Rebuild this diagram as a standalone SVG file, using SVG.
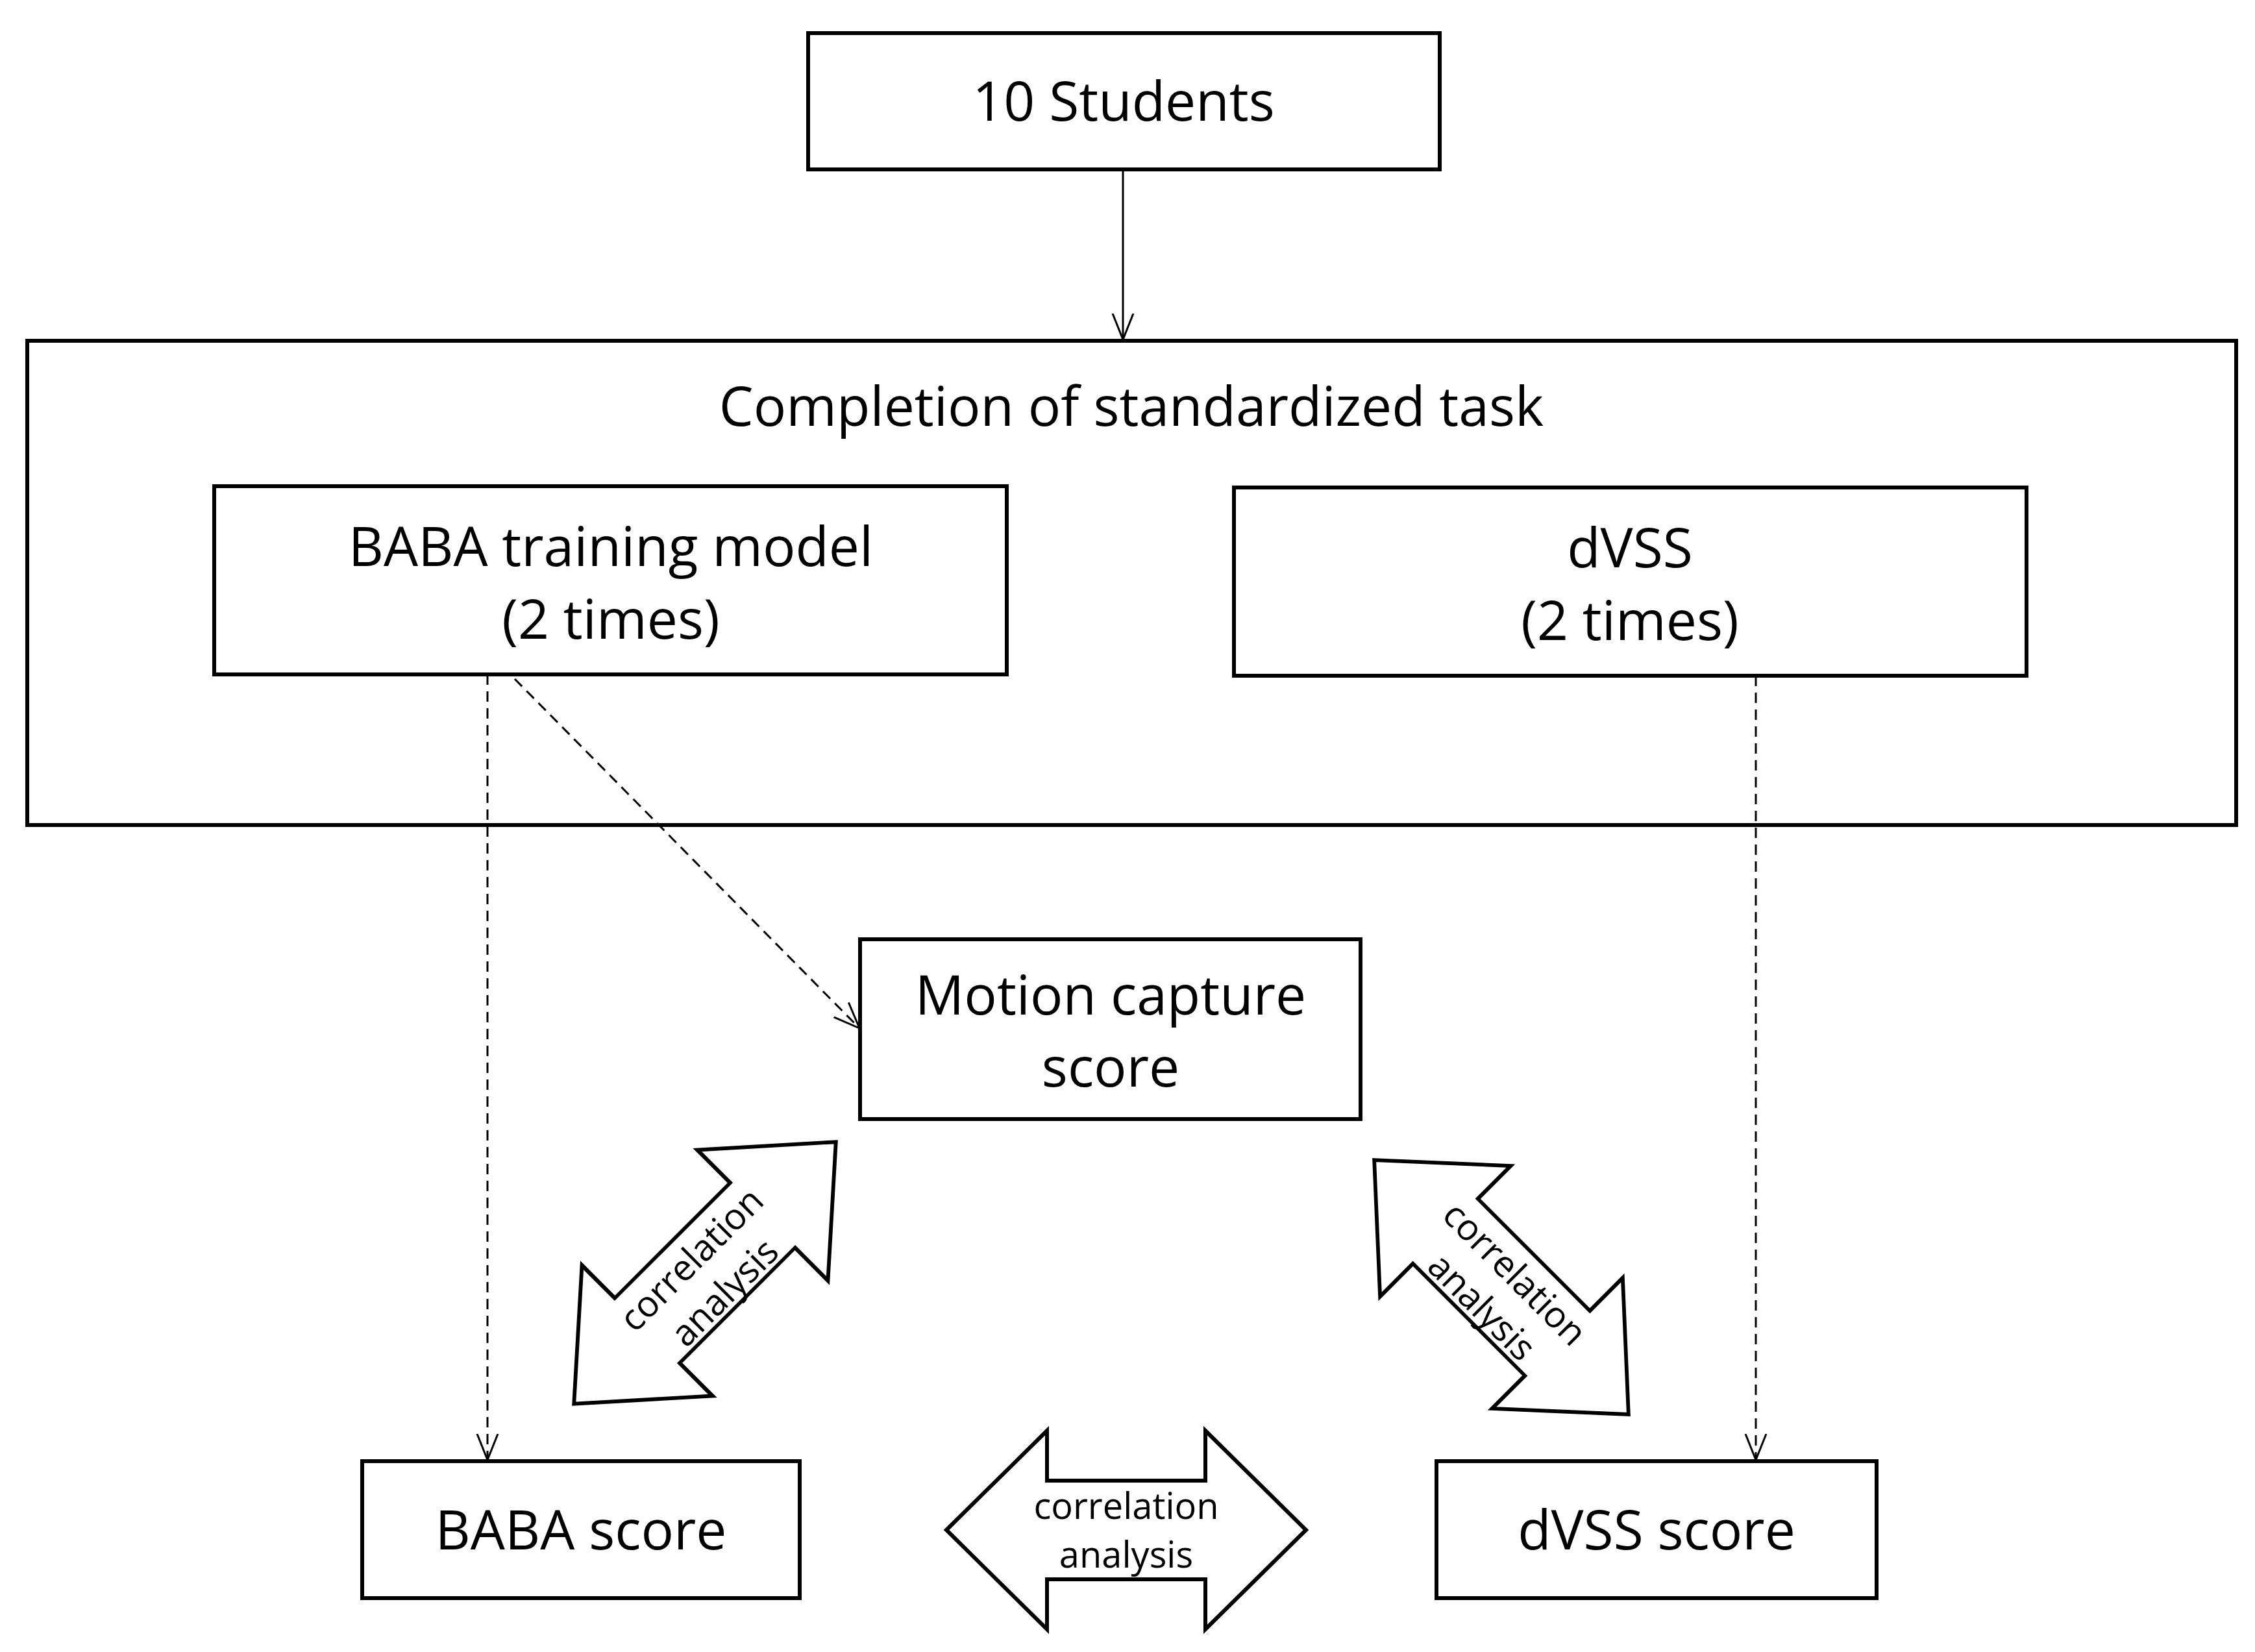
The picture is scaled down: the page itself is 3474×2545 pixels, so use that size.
<svg xmlns="http://www.w3.org/2000/svg" width="3474" height="2545" viewBox="0 0 3474 2545">
<style>
.b{fill:#fff;stroke:#000;stroke-width:6}
.t{font-family:"Open Sans","Noto Sans",sans-serif;font-size:84px;fill:#000;text-anchor:middle}
.s{font-family:"Open Sans","Noto Sans",sans-serif;font-size:56px;fill:#000;text-anchor:middle}
.c{fill:none;stroke:#000;stroke-width:3}
.d{stroke-dasharray:16 10}
</style>
<defs>
<marker id="a" viewBox="0 0 20 20" refX="20" refY="10" markerWidth="14" markerHeight="14" markerUnits="userSpaceOnUse" orient="auto"><path d="M0,0 L20,10 L0,20" fill="none" stroke="#000" stroke-width="2"/></marker>
<marker id="a2" viewBox="0 0 20 20" refX="20" refY="10" markerWidth="40" markerHeight="40" markerUnits="userSpaceOnUse" orient="auto"><path d="M0,2 L20,10 L0,18" fill="none" stroke="#000" stroke-width="1.5"/></marker>
<path id="dbl" d="M-277,0 L-122,-153 L-122,-76 L122,-76 L122,-153 L277,0 L122,153 L122,76 L-122,76 L-122,153 Z" class="b"/>
</defs>
<g id="n1"><rect class="b" x="1245" y="51" width="973" height="210"/><text class="t" x="1731" y="186">10 Students</text></g>
<g id="n2"><rect class="b" x="42" y="525" width="3403" height="746"/><text class="t" x="1743" y="656">Completion of standardized task</text></g>
<g id="n3"><rect class="b" x="330" y="749" width="1221" height="290"/><text class="t" x="941" y="872">BABA training model</text><text class="t" x="941" y="984">(2 times)</text></g>
<g id="n4"><rect class="b" x="1901" y="751" width="1221" height="290"/><text class="t" x="2511" y="874">dVSS</text><text class="t" x="2511" y="986">(2 times)</text></g>
<g id="n5"><rect class="b" x="1325" y="1447" width="771" height="277"/><text class="t" x="1711" y="1563">Motion capture</text><text class="t" x="1711" y="1674">score</text></g>
<g id="n6"><rect class="b" x="558" y="2251" width="674" height="211"/><text class="t" x="895" y="2387">BABA score</text></g>
<g id="n7"><rect class="b" x="2213" y="2251" width="678" height="211"/><text class="t" x="2552" y="2387">dVSS score</text></g>
<g id="e1"><use href="#dbl" transform="translate(1735,2357)"/><text class="s" x="1735" y="2340">correlation</text><text class="s" x="1735" y="2415">analysis</text></g>
<g id="e2" transform="translate(1086,1961) rotate(-45)"><use href="#dbl" transform="scale(1.03,0.93)"/><text class="s" y="-10">correlation</text><text class="s" y="62">analysis</text></g>
<g id="e3" transform="translate(2313,1983) rotate(45)"><use href="#dbl" transform="scale(1.0,0.93)"/><text class="s" y="-10">correlation</text><text class="s" y="62">analysis</text></g>
<g id="connectors">
<line class="c" x1="1730" y1="261" x2="1730" y2="523" marker-end="url(#a2)"/>
<line class="c d" x1="751" y1="1039" x2="751" y2="2249" marker-end="url(#a2)"/>
<line class="c d" x1="793" y1="1046" x2="1324" y2="1584" marker-end="url(#a2)"/>
<line class="c d" x1="2705" y1="1041" x2="2705" y2="2249" marker-end="url(#a2)"/>
</g>
</svg>
